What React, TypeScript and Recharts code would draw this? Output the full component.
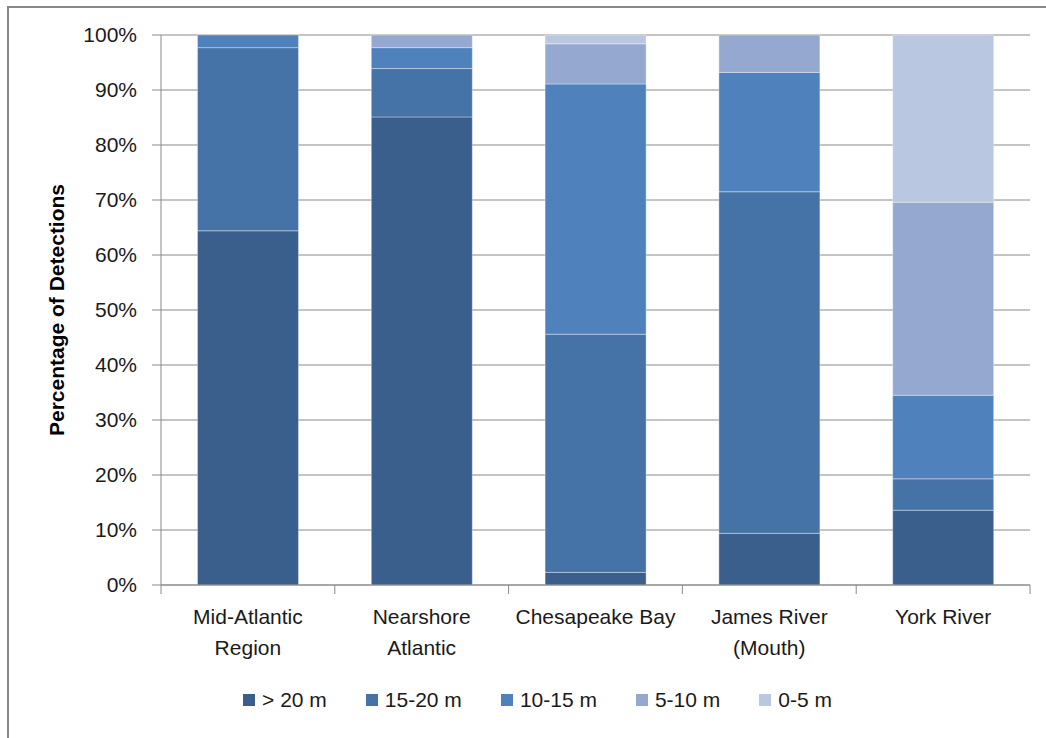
import { Bar, BarChart, CartesianGrid, Legend, XAxis, YAxis } from 'recharts';

const categories = [
  'Mid-Atlantic\nRegion',
  'Nearshore\nAtlantic',
  'Chesapeake Bay',
  'James River\n(Mouth)',
  'York River',
];
const over20 = [64.4, 85.1, 2.3, 9.4, 13.6];
const d15to20 = [33.3, 8.8, 43.3, 62.1, 5.7];
const d10to15 = [2.3, 3.8, 45.5, 21.7, 15.2];
const d5to10 = [0, 2.3, 7.3, 6.8, 35.1];
const d0to5 = [0, 0, 1.6, 0, 30.4];
const yTicks = [0, 10, 20, 30, 40, 50, 60, 70, 80, 90, 100];

const series = [
  { key: '> 20 m', values: over20, color: '#3b5f8d' },
  { key: '15-20 m', values: d15to20, color: '#4573a7' },
  { key: '10-15 m', values: d10to15, color: '#4f81bd' },
  { key: '5-10 m', values: d5to10, color: '#95a9d0' },
  { key: '0-5 m', values: d0to5, color: '#bac7e0' },
];

const data = categories.map((name, i) => {
  const row: Record<string, string | number> = { name };
  series.forEach((s) => {
    row[s.key] = s.values[i];
  });
  return row;
});

const W = 1046;
const H = 738;
const margin = { top: 35, right: 16, left: 60, bottom: 93 };
const yAxisWidth = 101;
const plotWidth = W - margin.left - margin.right - yAxisWidth;
const band = plotWidth / categories.length;
const font = '"Liberation Sans", Arial, sans-serif';
const gridColor = '#8a8a8a';
const textColor = '#1a1a1a';

function CategoryTick({ x, y, payload, index }: any) {
  const lines = String(payload.value).split('\n');
  const left = x - band / 2;
  return (
    <g>
      <line x1={left} y1={y - 8} x2={left} y2={y + 1} stroke={gridColor} />
      {index === categories.length - 1 && (
        <line x1={left + band} y1={y - 8} x2={left + band} y2={y + 1} stroke={gridColor} />
      )}
      <text x={x} y={y + 31} textAnchor="middle" fontSize={21} fill={textColor} fontFamily={font}>
        {lines.map((l, i) => (
          <tspan key={i} x={x} dy={i === 0 ? 0 : 31}>
            {l}
          </tspan>
        ))}
      </text>
    </g>
  );
}

function LegendContent() {
  return (
    <div
      style={{
        display: 'flex',
        justifyContent: 'center',
        alignItems: 'center',
        fontFamily: font,
        fontSize: 21,
        color: textColor,
        paddingLeft: 68,
      }}
    >
      {series.map((s) => (
        <span key={s.key} style={{ display: 'flex', alignItems: 'center', marginRight: 39 }}>
          <span
            style={{ width: 12, height: 12, background: s.color, display: 'inline-block', marginRight: 7 }}
          />
          {s.key}
        </span>
      ))}
    </div>
  );
}

export default function App() {
  return (
    <div
      style={{
        position: 'absolute',
        left: 0,
        top: 0,
        width: W,
        height: H,
        overflow: 'hidden',
        background: '#fff',
      }}
    >
      <div
        style={{
          position: 'absolute',
          left: 7,
          top: 6,
          width: 1100,
          height: 800,
          border: '2px solid #878787',
        }}
      />
      <div style={{ position: 'absolute', left: 0, top: 0 }}>
        <BarChart width={W} height={H} data={data} margin={margin} barCategoryGap="21%">
          <CartesianGrid vertical={false} stroke={gridColor} strokeDasharray="" />
          <XAxis
            dataKey="name"
            height={60}
            axisLine={{ stroke: gridColor }}
            tickLine={false}
            interval={0}
            tick={<CategoryTick />}
          />
          <YAxis
            width={yAxisWidth}
            domain={[0, 100]}
            ticks={yTicks}
            interval={0}
            axisLine={{ stroke: gridColor }}
            tickLine={{ stroke: gridColor }}
            tickSize={9}
            tickMargin={15}
            tickFormatter={(v) => `${v}%`}
            tick={{ fontSize: 21, fill: textColor, fontFamily: font }}
            label={{
              value: 'Percentage of Detections',
              angle: -90,
              position: 'insideLeft',
              dx: -8,
              style: { textAnchor: 'middle', fontSize: 21, fontWeight: 'bold', fill: '#000', fontFamily: font },
            }}
          />
          <Legend
            layout="horizontal"
            verticalAlign="middle"
            align="center"
            wrapperStyle={{ top: 688, left: 0, width: W }}
            content={<LegendContent />}
          />
          {series.map((s) => (
            <Bar
              key={s.key}
              dataKey={s.key}
              stackId="a"
              fill={s.color}
              stroke="rgba(255,255,255,0.35)"
              strokeWidth={1}
              isAnimationActive={false}
            />
          ))}
        </BarChart>
      </div>
    </div>
  );
}
